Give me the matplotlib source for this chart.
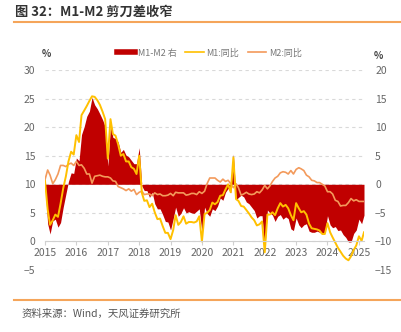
import matplotlib.pyplot as plt
from matplotlib.lines import Line2D
import numpy as np
import pandas as pd

plt.rcParams['font.family'] = ['Noto Sans CJK SC', 'DejaVu Sans']

# 月度同比，2015-01 至 2025-03
months = pd.date_range('2015-01-01', '2025-03-01', freq='MS')
m1_yoy = [
    10.6, 5.6, 2.9, 3.7, 4.7, 4.3, 6.6, 9.3, 11.4, 14.0, 15.7, 15.2,      # 2015
    18.6, 17.4, 22.1, 22.9, 23.7, 24.6, 25.4, 25.3, 24.7, 23.9, 22.7, 21.4,  # 2016
    14.5, 21.4, 18.8, 18.5, 17.0, 15.0, 15.3, 14.0, 14.0, 13.0, 12.7, 11.8,  # 2017
    15.0, 8.5, 7.1, 7.2, 6.0, 6.6, 5.1, 3.9, 4.0, 2.7, 1.5, 1.5,          # 2018
    0.4, 2.0, 4.6, 2.9, 3.4, 4.4, 3.1, 3.4, 3.4, 3.3, 3.5, 4.4,           # 2019
    0.0, 4.8, 5.0, 5.5, 6.8, 6.5, 6.9, 8.0, 8.1, 9.1, 10.0, 8.6,          # 2020
    14.7, 7.4, 7.1, 6.2, 6.1, 5.5, 4.9, 4.2, 3.7, 2.8, 3.0, 3.5,          # 2021
    -1.9, 4.7, 4.7, 5.1, 4.6, 5.8, 6.7, 6.1, 6.4, 5.8, 4.6, 3.7,          # 2022
    6.7, 5.8, 5.1, 5.3, 4.7, 3.1, 2.3, 2.2, 2.1, 1.9, 1.3, 1.3,           # 2023
    3.2, 1.6, 0.7, -0.2, -1.1, -1.8, -2.5, -3.0, -3.3, -2.6, -1.5, -0.7,  # 2024
    0.9, 0.1, 1.6,                                                        # 2025
]
m2_yoy = [
    10.8, 12.5, 11.6, 10.1, 10.8, 11.8, 13.3, 13.3, 13.1, 13.5, 13.7, 13.3,  # 2015
    14.0, 13.3, 13.4, 12.8, 11.8, 11.8, 10.2, 11.4, 11.5, 11.6, 11.4, 11.3,  # 2016
    11.3, 11.1, 10.6, 10.5, 9.6, 9.4, 9.2, 8.9, 9.2, 8.8, 9.1, 8.2,          # 2017
    8.6, 8.8, 8.2, 8.3, 8.3, 8.0, 8.5, 8.2, 8.3, 8.0, 8.0, 8.1,             # 2018
    8.4, 8.0, 8.6, 8.5, 8.5, 8.5, 8.1, 8.2, 8.4, 8.4, 8.2, 8.7,             # 2019
    8.4, 8.8, 10.1, 11.1, 11.1, 11.1, 10.7, 10.4, 10.9, 10.5, 10.7, 10.1,   # 2020
    9.4, 10.1, 9.4, 8.1, 8.3, 8.6, 8.3, 8.2, 8.3, 8.7, 8.5, 9.0,            # 2021
    9.8, 9.2, 9.7, 10.5, 11.1, 11.4, 12.0, 12.2, 12.1, 11.8, 12.4, 11.8,    # 2022
    12.6, 12.9, 12.7, 12.4, 11.6, 11.3, 10.7, 10.6, 10.3, 10.3, 10.0, 9.7,  # 2023
    8.7, 8.7, 8.3, 7.2, 7.0, 6.2, 6.3, 6.3, 6.8, 7.5, 7.1, 7.3,             # 2024
    7.0, 7.0, 7.0,                                                          # 2025
]
spread = np.array(m1_yoy) - np.array(m2_yoy)

years = list(range(2015, 2026))
left_ticks = list(range(-5, 31, 5))
right_ticks = list(range(-15, 21, 5))

red = '#c00000'
yellow = '#ffc000'
orange = '#f39a5b'
rule = '#f5a55a'
grey = '#666666'

fig = plt.figure(figsize=(4.01, 3.32), dpi=100)
ax1 = fig.add_axes([45 / 401, 62 / 332, 319 / 401, 200 / 332])
ax2 = ax1.twinx()
ax1.set_zorder(ax2.get_zorder() + 1)
ax1.patch.set_visible(False)

# 剪刀差（右轴）
ax2.fill_between(months, spread, 0, color=red, lw=0)
ax2.set_ylim(-15, 20)
ax2.set_yticks(right_ticks)
ax2.grid(axis='y', color='#d9d9d9', lw=0.8, ls=(0, (3, 3)))
ax2.set_axisbelow(True)

# 同比（左轴）
ax1.plot(months, m2_yoy, color=orange, lw=1.2)
ax1.plot(months, m1_yoy, color=yellow, lw=1.4)
ax1.set_ylim(-5, 30)
ax1.set_yticks(left_ticks)
ax1.set_xlim(months[0], months[-1])
ax1.set_xticks([pd.Timestamp(f'{y}-01-01') for y in years])
ax1.set_xticklabels([str(y) for y in years])

for ax in (ax1, ax2):
    for s in ('top', 'left', 'right'):
        ax.spines[s].set_visible(False)
ax2.spines['bottom'].set_visible(False)
ax1.spines['bottom'].set_position(('data', 0))
ax1.spines['bottom'].set_color('#d0d0d0')
ax1.tick_params(axis='x', length=3, color='#d0d0d0', labelsize=7.5,
                labelcolor=grey, pad=1.5)
ax1.tick_params(axis='y', length=0, labelsize=7.5, labelcolor=grey, pad=7)
ax2.tick_params(axis='y', length=0, labelsize=7.5, labelcolor=grey, pad=8)

handles = [Line2D([], [], color=red, lw=4),
           Line2D([], [], color=yellow, lw=1.2),
           Line2D([], [], color=orange, lw=1.2)]
ax1.legend(handles, ['M1-M2 右', 'M1:同比', 'M2:同比'], loc='center',
           bbox_to_anchor=(0.515, 1.085), ncol=3, frameon=False, fontsize=6.5,
           labelcolor='#777777', handlelength=2.0, handletextpad=0.3,
           columnspacing=1.0)

fig.text(46 / 401, 1 - 54 / 332, '%', ha='center', va='center',
         fontsize=7, color='#444444', fontweight='bold')
fig.text(378 / 401, 1 - 56 / 332, '%', ha='center', va='center',
         fontsize=7, color='#444444', fontweight='bold')

fig.text(15 / 401, 1 - 12 / 332, '图 32：M1-M2 剪刀差收窄', ha='left',
         va='center', fontsize=9.5, fontweight='bold', color='#333333')
fig.add_artist(Line2D([14 / 401, 1], [1 - 22 / 332] * 2, color=rule, lw=1.5))
fig.add_artist(Line2D([14 / 401, 1], [1 - 300 / 332] * 2, color=rule, lw=1.5))
fig.text(22 / 401, 1 - 314 / 332, '资料来源：Wind，天风证券研究所', ha='left',
         va='center', fontsize=7.5, color='#555555')

fig.savefig('out.png', dpi=100)
